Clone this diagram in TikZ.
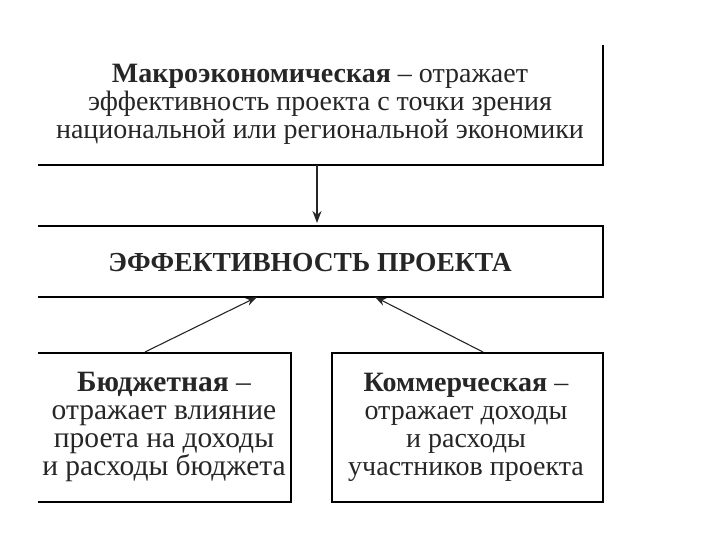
\documentclass[tikz,border=0pt]{standalone}
\usepackage{fontspec}
\setmainfont{Liberation Serif}
\usetikzlibrary{arrows.meta}
\begin{document}
\begin{tikzpicture}[x=1pt,y=-1pt,
  txt/.style={align=center,font=\fontsize{28}{28}\selectfont,text=black!85,inner sep=0pt},
  edge/.style={line width=1.8pt,black},
  conn/.style={line width=1.1pt,black!85,-{Stealth[length=11pt,width=8pt]}}]
\useasboundingbox (0,0) rectangle (720,540);
% box corners as coordinates
\coordinate (t1) at (38,45);  \coordinate (t2) at (603,165);
\coordinate (m1) at (38,226); \coordinate (m2) at (603,297);
\coordinate (l1) at (38,353); \coordinate (l2) at (291,502);
\coordinate (r1) at (332,353); \coordinate (r2) at (603,502);
% boxes (partially visible edges)
\draw[edge] (603,45) -- (t2) -- (38,165);
\draw[edge] (m1) -- (603,226) -- (m2) -- (38,297);
\draw[edge] (l1) -- (291,353) -- (l2) -- (38,502);
\draw[edge] (r1) rectangle (r2);
% texts
\node[txt] (top) at (320,104) {\textbf{Макроэкономическая} – отражает\\эффективность проекта с точки зрения\\национальной или региональной экономики};
\node[txt,font=\bfseries\fontsize{27.5}{27}\selectfont] (mid) at (310,263) {ЭФФЕКТИВНОСТЬ ПРОЕКТА};
\node[txt,font=\fontsize{29.5}{28}\selectfont] (bl) at (164,427) {\textbf{Бюджетная} –\\отражает влияние\\проета на доходы\\и расходы бюджета};
\node[txt] (br) at (466,427) {\textbf{Коммерческая} –\\отражает доходы\\и расходы\\участников проекта};
% anchor coordinates for connectors
\coordinate (a0) at (317,165); \coordinate (a1) at (317,223);
\coordinate (b0) at (145,352); \coordinate (b1) at (257,297);
\coordinate (c0) at (483,352); \coordinate (c1) at (375,297);
\draw[conn,line width=1.8pt,-{Stealth[length=12pt,width=9pt]}] (a0) -- (a1);
\draw[conn] (b0) -- (b1);
\draw[conn] (c0) -- (c1);
\end{tikzpicture}
\end{document}
